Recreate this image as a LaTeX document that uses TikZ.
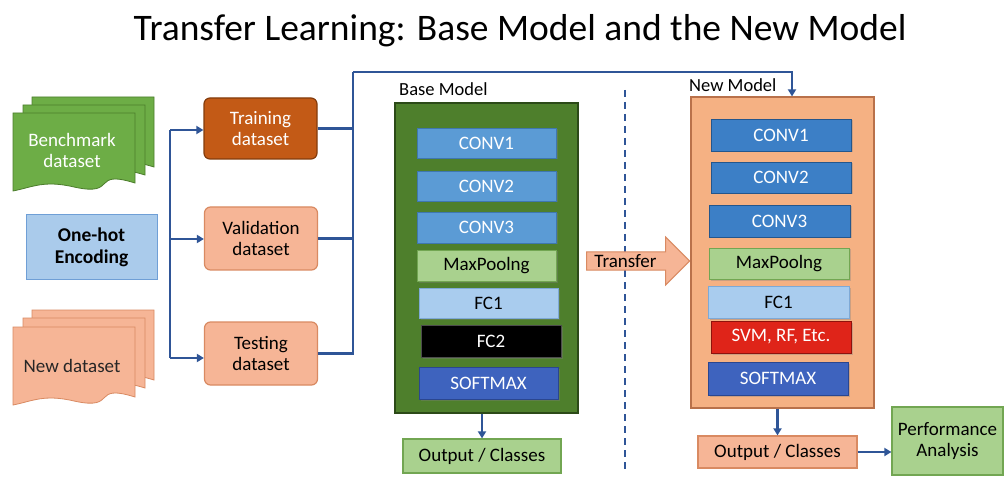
\documentclass[tikz,border=0pt]{standalone}
\usepackage{fontspec}
\setmainfont{Carlito}
\usetikzlibrary{arrows.meta,shadows,shapes.arrows,calc}

\definecolor{lnblue}{HTML}{2F5597}
\definecolor{docgreen}{HTML}{6DAD46}
\definecolor{docgreenD}{HTML}{4C7D2C}
\definecolor{salmon}{HTML}{F6B596}
\definecolor{salmonD}{HTML}{D98A62}
\definecolor{rust}{HTML}{C35A16}
\definecolor{rustD}{HTML}{843C0C}
\definecolor{basegreen}{HTML}{4E7F2C}
\definecolor{basegreenD}{HTML}{2C4A18}
\definecolor{peach}{HTML}{F5B183}
\definecolor{peachD}{HTML}{B9714A}
\definecolor{convA}{HTML}{5B9BD5}
\definecolor{convAD}{HTML}{3F77AF}
\definecolor{convB}{HTML}{3C7FC6}
\definecolor{convBD}{HTML}{24568C}
\definecolor{lgreen}{HTML}{A9D18E}
\definecolor{lgreenD}{HTML}{72A652}
\definecolor{fcblue}{HTML}{A9CCEE}
\definecolor{fcblueD}{HTML}{7EA9D6}
\definecolor{smblue}{HTML}{3E63BE}
\definecolor{smblueD}{HTML}{2A4690}
\definecolor{svmred}{HTML}{DF2419}
\definecolor{svmredD}{HTML}{8E120C}
\definecolor{ohblue}{HTML}{AACBEB}
\definecolor{ohblueD}{HTML}{6F9FD6}

% one sheet of a document stack, with a wavy lower edge
\newcommand\docsheet[4]{%
  \filldraw[fill=#3, draw=#4, line width=0.8pt]
    (#1,#2) -- ++(122,0) -- ++(0,70)
    .. controls ++(-45,-14) and ++(45,10) .. ++(-61,4)
    .. controls ++(-30,-7) and ++(20,-4) .. ++(-61,4) -- cycle;}

\tikzset{
  x=1pt, y=-1pt,
  every node/.style={font=\fontsize{19}{21}\selectfont, align=center, inner sep=1pt},
  ln/.style={draw=lnblue, line width=2.2pt},
  arr/.style={ln, -{Triangle[length=7pt,width=8pt]}},
  rbox/.style={rounded corners=6pt, line width=1.2pt},
  layer/.style={draw, line width=0.8pt, drop shadow={shadow xshift=1.5pt, shadow yshift=-1.5pt, opacity=0.35}},
  whitetxt/.style={text=white},
  plainbox/.style={draw, line width=1.2pt},
  modellabel/.style={anchor=west, font=\fontsize{18.5}{21}\selectfont},
}

\begin{document}
\begin{tikzpicture}
\useasboundingbox (0,0) rectangle (1006,478);
\fill[white] (0,0) rectangle (1006,478);

% title
\node[font=\fontsize{37.5}{42}\selectfont] (title) at (520,31) {Transfer Learning: Base Model and the New Model};

% document stacks
\docsheet{32}{97}{docgreen}{docgreenD}
\docsheet{23}{105}{docgreen}{docgreenD}
\docsheet{13}{113}{docgreen}{docgreenD}
\node[whitetxt] (bench) at (72,150) {Benchmark\\dataset};

\docsheet{32}{310}{salmon}{salmonD}
\docsheet{23}{318}{salmon}{salmonD}
\docsheet{13}{327}{salmon}{salmonD}
\node[text=black!85] (newds) at (72,366) {New dataset};

\node[plainbox, fill=ohblue, draw=ohblueD, line width=1pt, minimum width=131pt, minimum height=64pt,
      font=\fontsize{19.5}{22}\selectfont\bfseries] (onehot) at (91.5,247) {One-hot\\Encoding};

% dataset splits
\node[rbox, fill=rust, draw=rustD, minimum width=113pt, minimum height=61pt, whitetxt] (train) at (260.5,128.5) {Training\\dataset};
\node[rbox, fill=salmon, draw=salmonD, minimum width=113pt, minimum height=63pt] (valid) at (261,238.5) {Validation\\dataset};
\node[rbox, fill=salmon, draw=salmonD, minimum width=113pt, minimum height=63pt] (test) at (261,353.5) {Testing\\dataset};

\coordinate (br1) at (170,130);
\coordinate (br2) at (170,239);
\coordinate (br3) at (170,358);
\draw[ln] (br1) -- (br3);
\draw[arr] (br1) -- (br1 -| train.west);
\draw[arr] (br2) -- (br2 -| valid.west);
\draw[arr] (br3) -- (br3 -| test.west);

% base model
\node[modellabel] (blabel) at (398,89) {Base Model};
\node[draw=basegreenD, fill=basegreen, line width=1.5pt, minimum width=183pt, minimum height=310pt] (base) at (486.5,258) {};
\node[layer, fill=convA, draw=convAD, whitetxt, minimum width=139pt, minimum height=30pt] (bc1) at (486.5,143) {CONV1};
\node[layer, fill=convA, draw=convAD, whitetxt, minimum width=139pt, minimum height=30pt] (bc2) at (486.5,186) {CONV2};
\node[layer, fill=convA, draw=convAD, whitetxt, minimum width=139pt, minimum height=31pt] (bc3) at (486.5,227.5) {CONV3};
\node[layer, fill=lgreen, draw=lgreenD, minimum width=139pt, minimum height=31pt] (bmp) at (486.5,265.5) {MaxPoolng};
\node[layer, fill=fcblue, draw=fcblueD, minimum width=139pt, minimum height=30pt] (bfc1) at (488.5,303) {FC1};
\node[layer, fill=black, draw=black!70, whitetxt, minimum width=140pt, minimum height=32pt] (bfc2) at (491,341) {FC2};
\node[layer, fill=smblue, draw=smblueD, whitetxt, minimum width=139pt, minimum height=32pt] (bsm) at (488.5,383) {SOFTMAX};

\node[plainbox, fill=lgreen, draw=lgreenD, minimum width=158pt, minimum height=34pt] (bout) at (482,456) {Output / Classes};
\draw[arr] (bout.north |- base.south) -- (bout.north);

% separator
\coordinate (sepT) at (625,90);
\coordinate (sepB) at (625,470);
\draw[draw=lnblue, line width=2.2pt, dash pattern=on 7pt off 5pt] (sepT) -- (sepB);

% transfer arrow
\node[single arrow, fill=salmon, draw=salmonD, line width=1pt, minimum height=103pt, minimum width=48pt,
      single arrow head extend=11.5pt, single arrow tip angle=90, inner sep=0pt] (transfer) at (633.5,261) {\hspace*{-16pt}Transfer};

% new model
\node[modellabel] (nlabel) at (688,85) {New Model};
\node[draw=peachD, fill=peach, line width=1.2pt, minimum width=183pt, minimum height=311pt] (new) at (782.5,252.5) {};
\node[layer, fill=convB, draw=convBD, whitetxt, minimum width=140pt, minimum height=32pt] (nc1) at (781,135) {CONV1};
\node[layer, fill=convB, draw=convBD, whitetxt, minimum width=140pt, minimum height=31pt] (nc2) at (781,177.5) {CONV2};
\node[layer, fill=convB, draw=convBD, whitetxt, minimum width=141pt, minimum height=32pt] (nc3) at (779.5,221) {CONV3};
\node[layer, fill=lgreen, draw=lgreenD, minimum width=140pt, minimum height=31pt] (nmp) at (779,263.5) {MaxPoolng};
\node[layer, fill=fcblue, draw=fcblueD, minimum width=141pt, minimum height=32pt] (nfc1) at (778.5,302) {FC1};
\node[layer, fill=svmred, draw=svmredD, whitetxt, minimum width=140pt, minimum height=32pt] (nsvm) at (781,337) {SVM, RF, Etc.};
\node[layer, fill=smblue, draw=smblueD, whitetxt, minimum width=140pt, minimum height=33pt] (nsm) at (778,378.5) {SOFTMAX};

\node[plainbox, fill=salmon, draw=salmonD, minimum width=159pt, minimum height=32pt] (nout) at (777.5,452) {Output / Classes};
\draw[arr] (nout.north |- new.south) -- (nout.north);

\node[plainbox, fill=lgreen, draw=lgreenD, minimum width=111pt, minimum height=68pt] (perf) at (947.5,441) {Performance\\Analysis};
\draw[arr] (nout.east) -- (nout.east -| perf.west);

% routing from the splits to the new model
\coordinate (rx) at (353,0);
\coordinate (rtop) at (353,72);
\coordinate (ntop) at (792,72);
\draw[ln] (train.east) -- (train.east -| rx);
\draw[ln] (valid.east) -- (valid.east -| rx);
\draw[ln] (test.east) -- (test.east -| rx) -- (rtop);
\draw[arr] (rtop) -- (ntop) -- (ntop |- new.north);
\end{tikzpicture}
\end{document}
